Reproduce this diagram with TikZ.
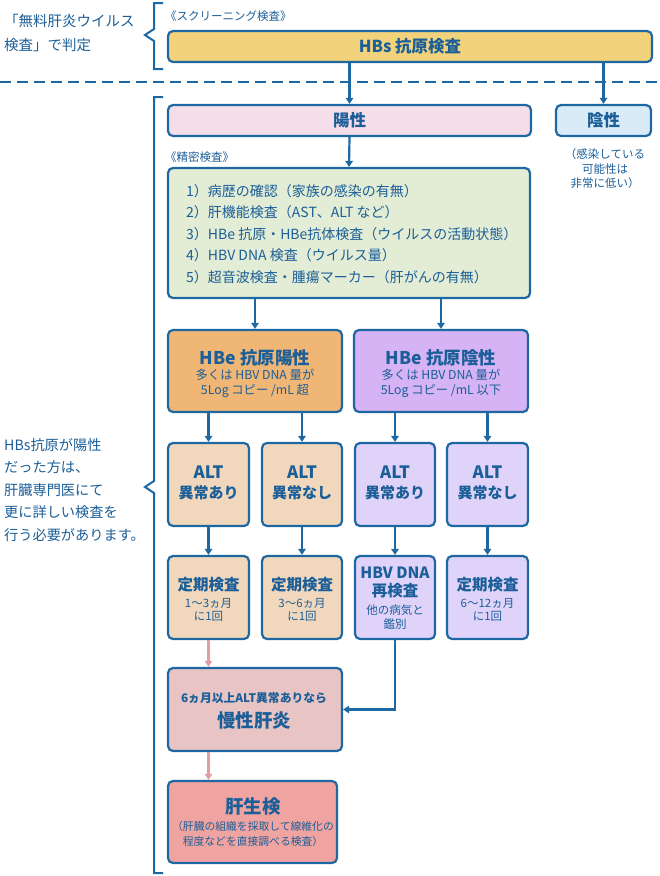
\documentclass[tikz,border=0pt]{standalone}
\usepackage{fontspec}
\setmainfont{Noto Sans CJK JP}
\usetikzlibrary{arrows.meta}

\definecolor{cText}{HTML}{1B5E98}
\definecolor{cLine}{HTML}{1D68A2}
\definecolor{cYellow}{HTML}{F2D27B}
\definecolor{cPink}{HTML}{F6DDEA}
\definecolor{cSky}{HTML}{D9EBF7}
\definecolor{cGreen}{HTML}{E3EDD5}
\definecolor{cOrange}{HTML}{F0B676}
\definecolor{cViolet}{HTML}{D5B3F5}
\definecolor{cPeach}{HTML}{F1D8BC}
\definecolor{cLilac}{HTML}{E0D3FA}
\definecolor{cRose}{HTML}{E8C4C4}
\definecolor{cSalmon}{HTML}{F0A4A2}
\definecolor{cPinkArrow}{HTML}{E39DA3}

\begin{document}
\begin{tikzpicture}[x=1pt,y=1pt,yscale=-1,
  box/.style={draw=cLine,line width=2.2pt,rounded corners=5pt,inner sep=0pt},
  txt/.style={text=cText,inner sep=0pt},
  head/.style={txt,font=\fontsize{16.5}{20}\selectfont\bfseries},
  small/.style={txt,align=center,font=\fontsize{11.5}{14.5}\selectfont},
  arr/.style={draw=cLine,line width=2.2pt,-{Triangle[length=6pt,width=7.5pt]}},
  parr/.style={arr,draw=cPinkArrow},
  brk/.style={draw=cLine,line width=2pt}]
\useasboundingbox (0,0) rectangle (660,876);

%Shape: Brackets
\draw[brk] (163,3) -- (154,3) -- (154,29) -- (145,35) -- (154,41) -- (154,69) -- (163,69);
\draw[brk] (163,97) -- (154,97) -- (154,481) -- (145,487) -- (154,493) -- (154,873) -- (163,873);
%Shape: Dashed Line
\draw[cLine,line width=2pt,dash pattern=on 11pt off 6pt] (0,82) -- (660,82);

% Text Node
\node[txt,anchor=west,align=left,font=\fontsize{14.5}{24}\selectfont] (freetxt) at (4,33) {「無料肝炎ウイルス\\検査」で判定};
% Text Node
\node[txt,anchor=west,align=left,font=\fontsize{14.2}{22.5}\selectfont] (posnote) at (4,490)
  {HBs抗原が陽性\\だった方は、\\肝臓専門医にて\\更に詳しい検査を\\行う必要があります。};
% Text Node
\node[small,anchor=west] (screen) at (165,16) {《スクリーニング検査》};
\node[small,anchor=west] (seimitsu) at (165,157) {《精密検査》};

%Shape: Rounded Rect
\node[box,fill=cYellow,minimum width=484,minimum height=31] (hbs) at (410,46.5) {};
\node[head] at (hbs.center) {HBs 抗原検査};
\node[box,fill=cPink,minimum width=363,minimum height=31] (yousei) at (349.5,120.5) {};
\node[head] at (yousei.center) {陽性};
\node[box,fill=cSky,minimum width=95,minimum height=31] (insei) at (603.5,120.5) {};
\node[head] at (insei.center) {陰性};
\node[small] (inseinote) at (605,169) {（感染している\\可能性は\\非常に低い）};

%Shape: List Box
\node[box,fill=cGreen,minimum width=362,minimum height=130] (list) at (349,233) {};
\node[txt,anchor=west,align=left,font=\fontsize{14}{21.5}\selectfont] (listtxt) at (186,234)
  {1）病歴の確認（家族の感染の有無）\\
   2）肝機能検査（AST、ALT など）\\
   3）HBe 抗原・HBe抗体検査（ウイルスの活動状態）\\
   4）HBV DNA 検査（ウイルス量）\\
   5）超音波検査・腫瘍マーカー（肝がんの有無）};

%Shape: HBe Boxes
\node[box,fill=cOrange,minimum width=174,minimum height=82] (hbepos) at (255,371) {};
\node[head,font=\fontsize{17.5}{20}\selectfont\bfseries] at (255,358) {HBe 抗原陽性};
\node[small,font=\fontsize{12.3}{15}\selectfont] at (255,383.5) {多くは HBV DNA 量が\\5Log コピー /mL 超};
\node[box,fill=cViolet,minimum width=174,minimum height=82] (hbeneg) at (441,371) {};
\node[head,font=\fontsize{17.5}{20}\selectfont\bfseries] at (441,358) {HBe 抗原陰性};
\node[small,font=\fontsize{12.3}{15}\selectfont] at (441,383.5) {多くは HBV DNA 量が\\5Log コピー /mL 以下};

%Shape: ALT Boxes
\node[box,fill=cPeach,minimum width=81,minimum height=83] (alt1) at (208.5,484.5) {};
\node[box,fill=cPeach,minimum width=80,minimum height=83] (alt2) at (302,484.5) {};
\node[box,fill=cLilac,minimum width=80,minimum height=83] (alt3) at (395,484.5) {};
\node[box,fill=cLilac,minimum width=81,minimum height=83] (alt4) at (487.5,484.5) {};
\foreach \n/\t in {alt1/異常あり,alt2/異常なし,alt3/異常あり,alt4/異常なし}{
  \node[head,font=\fontsize{17}{20}\selectfont\bfseries] at ([yshift=-12.5pt]\n.center) {ALT};
  \node[head,font=\fontsize{15}{18}\selectfont\bfseries] at ([yshift=8pt]\n.center) {\t};
}

%Shape: Check Boxes
\node[box,fill=cPeach,minimum width=81,minimum height=83] (chk1) at (208.5,597.5) {};
\node[box,fill=cPeach,minimum width=80,minimum height=83] (chk2) at (302,597.5) {};
\node[box,fill=cLilac,minimum width=80,minimum height=83] (chk3) at (395,597.5) {};
\node[box,fill=cLilac,minimum width=81,minimum height=83] (chk4) at (487.5,597.5) {};
\foreach \n/\t in {chk1/1～3ヵ月,chk2/3～6ヵ月,chk4/6～12ヵ月}{
  \node[head,font=\fontsize{15.5}{20}\selectfont\bfseries] at ([yshift=-13pt]\n.center) {定期検査};
  \node[small,font=\fontsize{11.5}{13.5}\selectfont] at ([yshift=12.5pt]\n.center) {\t\\に1回};
}
\node[head,font=\fontsize{15.5}{18}\selectfont\bfseries,align=center] at (395,583) {HBV DNA\\再検査};
\node[small,font=\fontsize{11.5}{13.5}\selectfont] at (395,617) {他の病気と\\鑑別};

%Shape: Bottom Boxes
\node[box,fill=cRose,minimum width=174,minimum height=83] (mansei) at (255,709.5) {};
\node[small,font=\fontsize{11.8}{14}\selectfont\bfseries] at (254,698) {6ヵ月以上ALT異常ありなら};
\node[head,font=\fontsize{18.5}{20}\selectfont\bfseries] at (254,720) {慢性肝炎};
\node[box,fill=cSalmon,minimum width=169,minimum height=82] (kansei) at (252.5,822) {};
\node[head,font=\fontsize{18.5}{20}\selectfont\bfseries] at (253,807) {肝生検};
\node[small,font=\fontsize{10.8}{15}\selectfont] at (253,834) {（肝臓の組織を採取して線維化の\\程度などを直接調べる検査）};

% Arrows
\draw[arr] (hbs.south -| yousei.north) -- (yousei.north);
\draw[arr] (hbs.south -| insei.north) -- (insei.north);
\draw[arr] (yousei.south) -- (list.north);
\draw[arr] (list.south -| hbepos.north) -- (hbepos.north);
\draw[arr] (list.south -| hbeneg.north) -- (hbeneg.north);
\draw[arr] (hbepos.south -| alt1.north) -- (alt1.north);
\draw[arr] (hbepos.south -| alt2.north) -- (alt2.north);
\draw[arr] (hbeneg.south -| alt3.north) -- (alt3.north);
\draw[arr] (hbeneg.south -| alt4.north) -- (alt4.north);
\foreach \i in {1,2,3,4}{
  \draw[arr] (alt\i.south) -- (chk\i.north);
}
\draw[arr] (chk3.south) |- (mansei.east);
\draw[parr] (chk1.south) -- (chk1.south |- mansei.north);
\draw[parr] (chk1.south |- mansei.south) -- (chk1.south |- kansei.north);

\end{tikzpicture}
\end{document}
